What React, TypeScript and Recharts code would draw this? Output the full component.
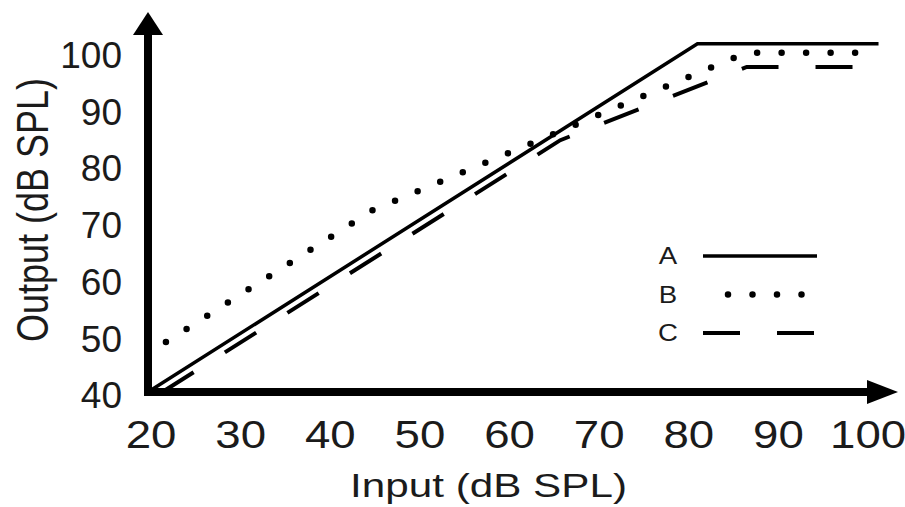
import { LineChart, Line, XAxis, YAxis, Legend, ReferenceDot, Label } from 'recharts'

// input/output pairs (dB SPL)
const inputA = [20, 81.3, 101.5]
const outputA = [40, 101.4, 101.4]
const inputB = [22, 45, 86.7, 100.5]
const outputB = [48.8, 72, 99.8, 99.8]
const inputC = [21.6, 66, 86.8, 101]
const outputC = [40, 84.4, 97.3, 97.3]

const xTicks = [20, 30, 40, 50, 60, 70, 80, 90, 100]
const yTicks = [40, 50, 60, 70, 80, 90, 100]

const zip = (xs: number[], ys: number[]) => xs.map((x, i) => ({ x, y: ys[i] }))
const dataA = zip(inputA, outputA)
const dataB = zip(inputB, outputB)
const dataC = zip(inputC, outputC)

const FONT = '"Liberation Sans", Arial, Helvetica, sans-serif'
const INK = '#1b1b1b'

const lineStyle: Record<string, { width: number; dash?: string; cap: 'butt' | 'round' }> = {
  A: { width: 3.5, cap: 'butt' },
  B: { width: 6.5, dash: '0 24.5', cap: 'round' },
  C: { width: 4, dash: '37 37', cap: 'butt' },
}

const XTick = ({ x, y, payload }: any) => (
  <g transform={`translate(${x + 3},${y})`}>
    <text transform="scale(1.2,1)" textAnchor="middle" dy="0.36em" fontSize={38} fill={INK} fontFamily={FONT}>
      {payload.value}
    </text>
  </g>
)

const YTick = ({ x, y, payload }: any) => (
  <text x={x} y={y + 3} textAnchor="end" dy="0.36em" fontSize={37} fill={INK} fontFamily={FONT}>
    {payload.value}
  </text>
)

const XTitle = ({ viewBox }: any) => (
  <g transform={`translate(${viewBox.x + viewBox.width / 2 - 27},485)`}>
    <text transform="scale(1.28,1)" textAnchor="middle" dy="0.36em" fontSize={33} fill={INK} fontFamily={FONT}>
      Input (dB SPL)
    </text>
  </g>
)

const YTitle = () => (
  <g transform="translate(32,210) rotate(-90) scale(1,1.22)">
    <text textAnchor="middle" dy="0.36em" fontSize={36} fill={INK} fontFamily={FONT}>
      Output (dB SPL)
    </text>
  </g>
)

const renderLegend = ({ payload }: any) => (
  <svg width={200} height={120}>
    {(payload || []).map((entry: any, i: number) => {
      const s = lineStyle[entry.value]
      const y = 26 + i * 38.5
      const x1 = s.dash && s.cap === 'round' ? 88 : 63
      return (
        <g key={entry.value}>
          <g transform={`translate(28,${y})`}>
            <text transform="scale(1.2,1)" textAnchor="middle" dy="0.36em" fontSize={23} fill={INK} fontFamily={FONT}>
              {entry.value}
            </text>
          </g>
          <line x1={x1} x2={177} y1={y} y2={y} stroke="#000" strokeWidth={s.width}
            strokeDasharray={s.dash} strokeLinecap={s.cap} />
        </g>
      )
    })}
  </svg>
)

const ArrowRight = ({ cx, cy }: any) => (
  <polygon points={`${cx - 16},${cy - 12} ${cx + 15},${cy} ${cx - 16},${cy + 12}`} fill="#000" />
)
const ArrowUp = ({ cx, cy }: any) => (
  <polygon points={`${cx - 15},${cy + 6} ${cx},${cy - 17} ${cx + 15},${cy + 6}`} fill="#000" />
)

export default function App() {
  return (
    <div style={{ position: 'absolute', left: 0, top: 0, width: 905, height: 507, background: '#fff' }}>
      <LineChart width={905} height={507} margin={{ top: 29, right: 22, left: 0, bottom: 0 }}>
        <XAxis
          type="number"
          dataKey="x"
          domain={[20, 102]}
          ticks={xTicks}
          interval={0}
          height={115}
          tickLine={false}
          tickSize={0}
          tickMargin={42}
          tick={<XTick />}
          axisLine={{ stroke: '#000', strokeWidth: 8, strokeLinecap: 'square' }}
        >
          <Label content={<XTitle />} />
        </XAxis>
        <YAxis
          type="number"
          domain={[40, 104]}
          ticks={yTicks}
          interval={0}
          width={148}
          tickLine={false}
          tickSize={0}
          tickMargin={26}
          tick={<YTick />}
          axisLine={{ stroke: '#000', strokeWidth: 8, strokeLinecap: 'square' }}
        >
          <Label content={<YTitle />} />
        </YAxis>
        <Legend
          layout="horizontal"
          verticalAlign="middle"
          align="center"
          content={renderLegend}
          wrapperStyle={{ left: 640, top: 230, width: 200, height: 120 }}
        />
        {(['A', 'B', 'C'] as const).map((name) => {
          const s = lineStyle[name]
          const data = name === 'A' ? dataA : name === 'B' ? dataB : dataC
          return (
            <Line
              key={name}
              data={data}
              dataKey="y"
              name={name}
              type="linear"
              stroke="#000"
              strokeWidth={s.width}
              strokeDasharray={s.dash}
              strokeLinecap={s.cap}
              dot={false}
              activeDot={false}
              isAnimationActive={false}
            />
          )
        })}
        <ReferenceDot x={102} y={40} ifOverflow="visible" shape={<ArrowRight />} />
        <ReferenceDot x={20} y={104} ifOverflow="visible" shape={<ArrowUp />} />
      </LineChart>
    </div>
  )
}
